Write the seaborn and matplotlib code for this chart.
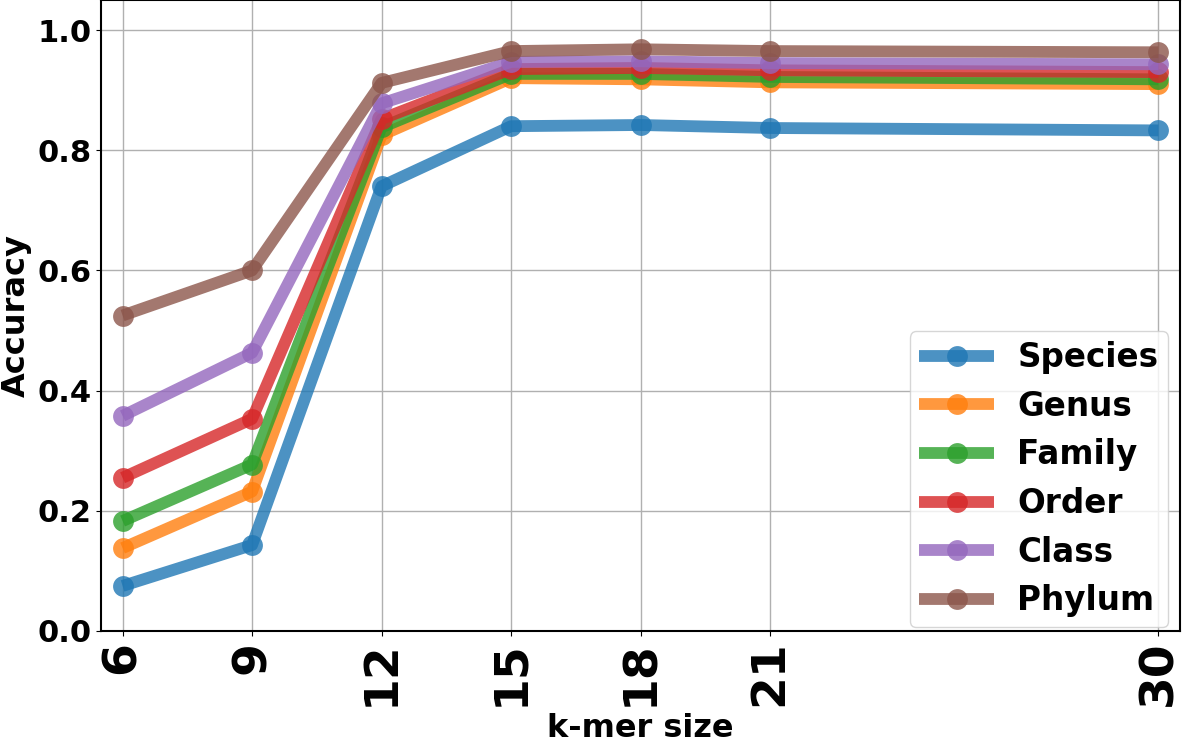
import numpy as np
import pandas as pd
import matplotlib
matplotlib.use("Agg")
import matplotlib.pyplot as plt
import seaborn as sns

# k-mer sizes on the x axis
kmer_sizes = [6, 9, 12, 15, 18, 21, 30]

# accuracy per taxonomic level
species = [0.075, 0.143, 0.740, 0.840, 0.842, 0.837, 0.833]
genus = [0.138, 0.232, 0.825, 0.920, 0.918, 0.913, 0.910]
family = [0.183, 0.277, 0.838, 0.927, 0.927, 0.922, 0.918]
order = [0.255, 0.353, 0.852, 0.935, 0.937, 0.933, 0.930]
class_ = [0.358, 0.463, 0.878, 0.947, 0.948, 0.945, 0.943]
phylum = [0.525, 0.600, 0.912, 0.965, 0.968, 0.965, 0.963]

levels = ["Species", "Genus", "Family", "Order", "Class", "Phylum"]
series = [species, genus, family, order, class_, phylum]

df = pd.DataFrame({
    "k": kmer_sizes * len(levels),
    "acc": np.concatenate(series),
    "level": np.repeat(levels, len(kmer_sizes)),
})

colors = sns.color_palette("tab10", len(levels))

fig = plt.figure(figsize=(11.82, 7.43), dpi=100)
ax = fig.add_axes([101 / 1182, 112 / 743, 1079 / 1182, 631 / 743])

for lvl, col in zip(levels, colors):
    sub = df[df["level"] == lvl]
    sns.lineplot(data=sub, x="k", y="acc", ax=ax, color=col, label=lvl,
                 marker="o", markersize=15, linewidth=8.5, alpha=0.8,
                 markeredgewidth=0, solid_capstyle="butt")

ax.set_xlim(5.5, 30.5)
ax.set_ylim(0, 1.05)
ax.set_xticks(kmer_sizes)
ax.set_xticklabels([str(k) for k in kmer_sizes], rotation=90,
                   fontsize=34, fontweight="bold")
ax.set_yticks([0.0, 0.2, 0.4, 0.6, 0.8, 1.0])
ax.set_yticklabels(["0.0", "0.2", "0.4", "0.6", "0.8", "1.0"],
                   fontsize=22, fontweight="bold")
ax.grid(True, color="#b0b0b0", linewidth=1)
ax.set_axisbelow(True)
for s in ax.spines.values():
    s.set_linewidth(1.5)
    s.set_color("black")

ax.set_xlabel("k-mer size", fontsize=23, fontweight="bold", labelpad=5)
ax.set_ylabel("Accuracy", fontsize=23, fontweight="bold", labelpad=4)

ax.legend(loc="lower right", bbox_to_anchor=(0.989, 0.006),
          borderaxespad=0, prop={"size": 23.5, "weight": "bold"},
          handlelength=2.3, labelspacing=0.48, borderpad=0.3,
          handletextpad=0.7)

fig.savefig("out.png", dpi=100)
